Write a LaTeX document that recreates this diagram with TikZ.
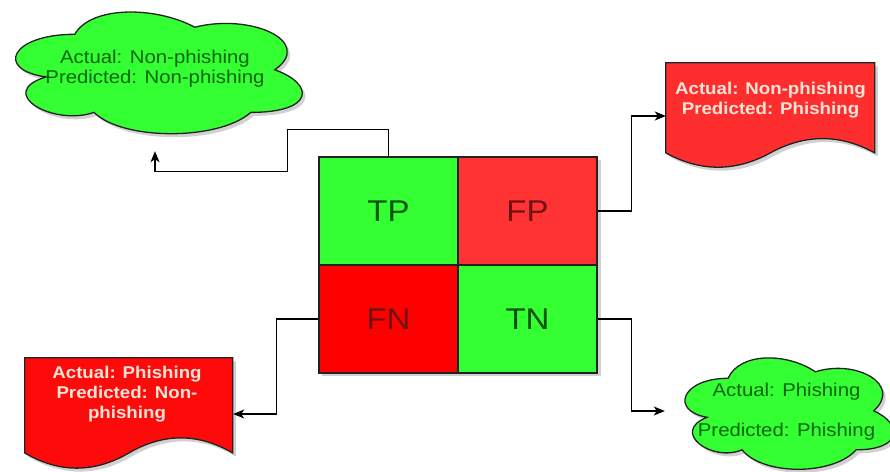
\documentclass[tikz,border=0pt]{standalone}
\usepackage{fontspec}
\setmainfont{Liberation Sans}[FakeStretch=1.1]
\usetikzlibrary{arrows.meta}
\definecolor{cgreen}{HTML}{33FF33}
\definecolor{credA}{HTML}{FF3333}
\definecolor{credB}{HTML}{FF0000}
\definecolor{cdocA}{HTML}{FF2E2E}
\definecolor{cdocB}{HTML}{FF0A0A}
\definecolor{outl}{HTML}{222222}
\definecolor{cltext}{HTML}{0B650B}
\definecolor{dctext}{HTML}{FBE3D6}
\definecolor{gtext}{HTML}{0A520A}
\definecolor{rtext}{HTML}{701212}
\tikzset{
  conn/.style={draw=black, line width=1.3pt, -{Stealth[length=11pt,width=9pt,inset=3pt]}},
  cell/.style={draw=outl, line width=1.3pt, minimum width=139pt, minimum height=108pt, inner sep=0pt, font=\fontsize{30}{32}\selectfont},
  shapeline/.style={draw=outl, line width=1.3pt},
  holder/.style={inner sep=0pt, draw=none},
  dropsh/.style={fill=black, opacity=0.18},
  cloudtext/.style={text=cltext, align=center, font=\fontsize{18.5}{20}\selectfont},
  doctext/.style={text=dctext, align=center, font=\bfseries\fontsize{17}{20}\selectfont},
  cloudshape/.pic={\path[pic actions] (0.25,0.25) .. controls (0.05,0.25) and (0,0.5) .. (0.16,0.55) .. controls (0,0.66) and (0.18,0.9) .. (0.31,0.8) .. controls (0.4,1) and (0.7,1) .. (0.8,0.8) .. controls (1,0.8) and (1,0.6) .. (0.875,0.5) .. controls (1,0.3) and (0.8,0.1) .. (0.625,0.2) .. controls (0.5,0.05) and (0.3,0.05) .. (0.25,0.25) -- cycle;},
  docshape/.pic={\path[pic actions] (0,0) -- (1,0) -- (1,0.85) .. controls (0.8333,0.67) and (0.6667,0.67) .. (0.5,0.85) .. controls (0.3333,1.03) and (0.1667,1.03) .. (0,0.85) -- cycle;}
}
\begin{document}
\begin{tikzpicture}[x=1pt,y=-1pt]
\useasboundingbox[fill=white] (0,0) rectangle (890,471);

% matrix
\fill[dropsh] (322,160) rectangle (600.5,375.5);
\node[cell, fill=cgreen, text=gtext] (TP) at (388.5,211) {TP};
\node[cell, fill=credA, text=rtext] (FP) at (527.5,211) {FP};
\node[cell, fill=credB, text=rtext] (FN) at (388.5,319) {FN};
\node[cell, fill=cgreen, text=gtext] (TN) at (527.5,319) {TN};

% top-left cloud
\node[holder, minimum width=320pt, minimum height=142pt] (c1) at (155,70) {};
\pic[dropsh, xscale=320, yscale=142] at ([shift={(3,3.5)}]c1.north west) {cloudshape};
\pic[shapeline, fill=cgreen, xscale=320, yscale=142] at (c1.north west) {cloudshape};
\node[cloudtext] (c1t) at (155,69) {Actual: Non-phishing\\Predicted: Non-phishing};

% bottom-right cloud
\node[holder, minimum width=233pt, minimum height=130pt] (c2) at (786.5,411) {};
\pic[dropsh, xscale=233, yscale=130] at ([shift={(3,3.5)}]c2.north west) {cloudshape};
\pic[shapeline, fill=cgreen, xscale=233, yscale=130] at (c2.north west) {cloudshape};
\node[cloudtext, font=\fontsize{18.5}{40}\selectfont] (c2t) at (786.5,412) {Actual: Phishing\\Predicted: Phishing};

% top-right document
\node[holder, minimum width=209pt, minimum height=106pt] (d1) at (770.5,116) {};
\pic[dropsh, xscale=209, yscale=106] at ([shift={(3,3.5)}]d1.north west) {docshape};
\pic[shapeline, fill=cdocA, xscale=209, yscale=106] at (d1.north west) {docshape};
\node[doctext] (d1t) at (770.5,100.5) {Actual: Non-phishing\\Predicted: Phishing};

% bottom-left document
\node[holder, minimum width=208pt, minimum height=112pt] (d2) at (129,414) {};
\pic[dropsh, xscale=208, yscale=112] at ([shift={(3,3.5)}]d2.north west) {docshape};
\pic[shapeline, fill=cdocB, xscale=208, yscale=112] at (d2.north west) {docshape};
\node[doctext] (d2t) at (127,394) {Actual: Phishing\\Predicted: Non-\\phishing};

% connectors
\draw[conn] (TP.north) -- ++(0,-27) -| ++(-101,42) -| ([yshift=-10pt]c1.south);
\draw[conn] (FP.east) -- ++(34,0) |- (d1.west);
\draw[conn] (FN.west) -- ++(-42,0) |- (d2.east);
\draw[conn] (TN.east) -- ++(34,0) |- ([xshift=-5pt]c2.west);
\end{tikzpicture}
\end{document}
